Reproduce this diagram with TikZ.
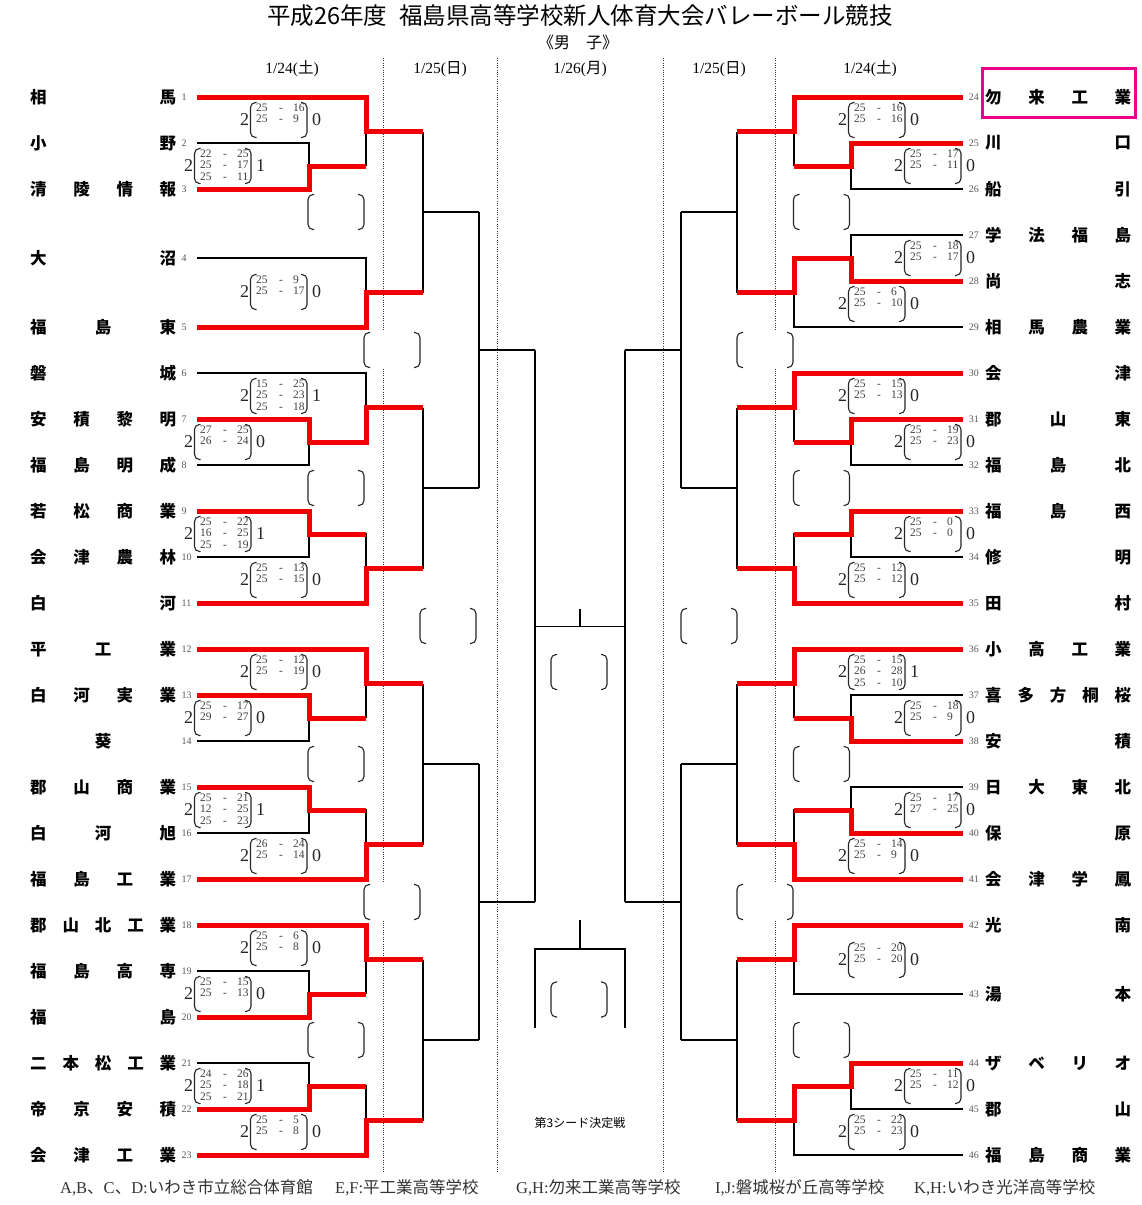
\documentclass[tikz,border=0pt]{standalone}
\usepackage{fontspec}
\setmainfont{Liberation Serif}
\newfontfamily\cjk{Noto Sans CJK JP}
\definecolor{wred}{RGB}{240,0,0}
\newcommand\sixblock[1]{%
 \draw[br] (197,#1) -- (366,#1) -- (366,#1+69);
 \draw[br] (197,#1+46) -- (309,#1+46) -- (309,#1+92) -- (197,#1+92);
 \draw[br] (309,#1+69) -- (366,#1+69);
 \draw[br] (366,#1+34.5) -- (423,#1+34.5);
 \draw[br] (197,#1+138) -- (309,#1+138) -- (309,#1+184) -- (197,#1+184);
 \draw[br] (309,#1+161) -- (366,#1+161) -- (366,#1+230) -- (197,#1+230);
 \draw[br] (366,#1+195.5) -- (423,#1+195.5);
 \draw[br] (423,#1+34.5) -- (423,#1+195.5);
 \draw[br] (423,#1+115) -- (479,#1+115);}
\newcommand\halfround{%
 \draw[br] (479,212) -- (479,488);
 \draw[br] (479,350) -- (535,350);
 \draw[br] (479,764) -- (479,1040);
 \draw[br] (479,902) -- (535,902);
 \draw[br] (535,350) -- (535,902);}
\newcommand\score[6]{%
 \node[bigd] (#1l) at (#2+4.5,#3) {#4};
 \node[scoret] (#1t) at (#2+16,#3-17) {\begin{tabular}{@{}p{23pt}@{}p{14pt}@{}l@{}}#6\end{tabular}};
 \node[bigd] (#1r) at (#2+76.5,#3) {#5};
 \draw[parl] (#2+16.5,#3-17.5) -- (#2+10.5,#3-17.5) -- (#2+10.5,#3+17.5) -- (#2+16.5,#3+17.5);
 \draw[parl] (#2+61,#3-17.5) -- (#2+67,#3-17.5) -- (#2+67,#3+17.5) -- (#2+61,#3+17.5);}
\newcommand\ebr[2]{%
 \fill[white] (#1+2,#2-18) rectangle (#1+54,#2+18);
 \draw[parl] (#1+6,#2-17.5) -- (#1,#2-17.5) -- (#1,#2+17.5) -- (#1+6,#2+17.5);
 \draw[parl] (#1+50,#2-17.5) -- (#1+56,#2-17.5) -- (#1+56,#2+17.5) -- (#1+50,#2+17.5);}
\newcommand\teamL[3]{\node[tnum,anchor=west] (n#1) at (181.5,#2) {#1};
 \node[tname] (t#1) at (30,#2) {#3};}
\newcommand\teamR[3]{\node[tnum,anchor=east] (n#1) at (979,#2) {#1};
 \node[tname] (t#1) at (985,#2) {#3};}
\begin{document}
\begin{tikzpicture}[x=1pt,y=-1pt,
  br/.style={line width=1.3pt,draw=black},
  win/.style={line width=5pt,draw=wred,line join=miter},
  parl/.style={line width=1.1pt,draw=black!85,rounded corners=5pt},
  dotl/.style={line width=1pt,draw=black!80,dash pattern=on 1pt off 1.3pt},
  tname/.style={anchor=west,inner sep=0pt,text width=146pt,font=\cjk\bfseries\fontsize{16.5}{18}\selectfont},
  tnum/.style={inner sep=0pt,font=\fontsize{10}{10}\selectfont,text=black!65},
  bigd/.style={inner sep=0pt,font=\fontsize{18}{18}\selectfont,text=black!85},
  scoret/.style={anchor=north west,inner sep=0pt,font=\fontsize{11.5}{11.5}\selectfont,text=black!75},
  datef/.style={inner sep=0pt,font=\fontsize{15.5}{15.5}\selectfont},
  foot/.style={anchor=west,inner sep=0pt,font=\fontsize{16.5}{16.5}\selectfont,text=black!80}]
\fill[white] (0,0) rectangle (1141,1205);
\useasboundingbox (0,0) rectangle (1141,1205);
% titles
\node[font=\cjk\fontsize{23.5}{25}\selectfont] (title) at (580,16) {平成26年度\hspace{0.5em}福島県高等学校新人体育大会バレーボール競技};
\node[font=\cjk\fontsize{16}{16}\selectfont] (sub) at (578,42) {《男\hspace{1em}子》};
\node[datef] (d1) at (292,69) {1/24({\cjk 土})};
\node[datef] (d2) at (440,69) {1/25({\cjk 日})};
\node[datef] (d3) at (580,69) {1/26({\cjk 月})};
\node[datef] (d4) at (719,69) {1/25({\cjk 日})};
\node[datef] (d5) at (870,69) {1/24({\cjk 土})};
% dotted day separators
\draw[dotl] (383.5,58) -- (383.5,1173);
\draw[dotl] (497,58) -- (497,1173);
\draw[dotl] (663,58) -- (663,1173);
\draw[dotl] (775.5,58) -- (775.5,1173);
% left bracket (black)
\draw[br] (197,97) -- (366,97) -- (366,166);
\draw[br] (197,143) -- (309,143) -- (309,189) -- (197,189);
\draw[br] (309,166) -- (366,166);
\draw[br] (366,131.5) -- (423,131.5);
\draw[br] (197,258) -- (366,258) -- (366,327) -- (197,327);
\draw[br] (366,292.5) -- (423,292.5);
\draw[br] (423,131.5) -- (423,292.5);
\draw[br] (423,212) -- (479,212);
\sixblock{373}
\sixblock{649}
\sixblock{925}
\halfround
% left winners
\draw[win] (197,97) -- (366,97) -- (366,131.5) -- (423,131.5);
\draw[win] (197,189) -- (309,189) -- (309,166) -- (366,166);
\draw[win] (197,327) -- (366,327) -- (366,292.5) -- (423,292.5);
\draw[win] (197,419) -- (309,419) -- (309,442) -- (366,442) -- (366,407.5) -- (423,407.5);
\draw[win] (197,511) -- (309,511) -- (309,534) -- (366,534);
\draw[win] (197,603) -- (366,603) -- (366,568.5) -- (423,568.5);
\draw[win] (197,649) -- (366,649) -- (366,683.5) -- (423,683.5);
\draw[win] (197,695) -- (309,695) -- (309,718) -- (366,718);
\draw[win] (197,787) -- (309,787) -- (309,810) -- (366,810);
\draw[win] (197,879) -- (366,879) -- (366,844.5) -- (423,844.5);
\draw[win] (197,925) -- (366,925) -- (366,959.5) -- (423,959.5);
\draw[win] (197,1017) -- (309,1017) -- (309,994) -- (366,994);
\draw[win] (197,1109) -- (309,1109) -- (309,1086) -- (366,1086);
\draw[win] (197,1155) -- (366,1155) -- (366,1120.5) -- (423,1120.5);
% right bracket (mirrored)
\begin{scope}[shift={(1160,0)},xscale=-1]
\sixblock{97}
\sixblock{373}
\sixblock{649}
\draw[br] (197,925) -- (366,925) -- (366,994) -- (197,994);
\draw[br] (366,959.5) -- (423,959.5);
\draw[br] (197,1063) -- (309,1063) -- (309,1109) -- (197,1109);
\draw[br] (309,1086) -- (366,1086) -- (366,1155) -- (197,1155);
\draw[br] (366,1120.5) -- (423,1120.5);
\draw[br] (423,959.5) -- (423,1120.5);
\draw[br] (423,1040) -- (479,1040);
\halfround
\draw[win] (197,97) -- (366,97) -- (366,131.5) -- (423,131.5);
\draw[win] (197,143) -- (309,143) -- (309,166) -- (366,166);
\draw[win] (197,281) -- (309,281) -- (309,258) -- (366,258) -- (366,292.5) -- (423,292.5);
\draw[win] (197,373) -- (366,373) -- (366,407.5) -- (423,407.5);
\draw[win] (197,419) -- (309,419) -- (309,442) -- (366,442);
\draw[win] (197,511) -- (309,511) -- (309,534) -- (366,534);
\draw[win] (197,603) -- (366,603) -- (366,568.5) -- (423,568.5);
\draw[win] (197,649) -- (366,649) -- (366,683.5) -- (423,683.5);
\draw[win] (197,741) -- (309,741) -- (309,718) -- (366,718);
\draw[win] (197,833) -- (309,833) -- (309,810) -- (366,810);
\draw[win] (197,879) -- (366,879) -- (366,844.5) -- (423,844.5);
\draw[win] (197,925) -- (366,925) -- (366,959.5) -- (423,959.5);
\draw[win] (197,1063) -- (309,1063) -- (309,1086) -- (366,1086) -- (366,1120.5) -- (423,1120.5);
\end{scope}
% final and third-place
\draw[br] (535,626.5) -- (625,626.5);
\draw[br] (580,626.5) -- (580,609);
\draw[br] (535,1028) -- (535,949) -- (625,949) -- (625,1028);
\draw[br] (580,949) -- (580,920);
\node[font=\cjk\fontsize{12}{12}\selectfont] (third) at (580,1123) {第3シード決定戦};
% empty result brackets
\ebr{308}{212} \ebr{308}{488} \ebr{308}{764} \ebr{308}{1040}
\ebr{364}{350} \ebr{364}{902} \ebr{420}{626}
\ebr{551}{672} \ebr{551}{999.5}
\ebr{793.5}{212} \ebr{793.5}{488} \ebr{793.5}{764} \ebr{793.5}{1040}
\ebr{737}{350} \ebr{737}{902} \ebr{681}{626}
% scores
\score{s1}{240}{120}{2}{0}{25&-&16\\25&-&9}
\score{s2}{184}{166}{2}{1}{22&-&25\\25&-&17\\25&-&11}
\score{s3}{240}{292}{2}{0}{25&-&9\\25&-&17}
\score{s4}{240}{396}{2}{1}{15&-&25\\25&-&23\\25&-&18}
\score{s5}{184}{442}{2}{0}{27&-&25\\26&-&24}
\score{s6}{184}{534}{2}{1}{25&-&22\\16&-&25\\25&-&19}
\score{s7}{240}{580}{2}{0}{25&-&13\\25&-&15}
\score{s8}{240}{672}{2}{0}{25&-&12\\25&-&19}
\score{s9}{184}{718}{2}{0}{25&-&17\\29&-&27}
\score{s10}{184}{810}{2}{1}{25&-&21\\12&-&25\\25&-&23}
\score{s11}{240}{856}{2}{0}{26&-&24\\25&-&14}
\score{s12}{240}{948}{2}{0}{25&-&6\\25&-&8}
\score{s13}{184}{994}{2}{0}{25&-&15\\25&-&13}
\score{s14}{184}{1086}{2}{1}{24&-&26\\25&-&18\\25&-&21}
\score{s15}{240}{1132}{2}{0}{25&-&5\\25&-&8}
\score{s16}{838}{120}{2}{0}{25&-&16\\25&-&16}
\score{s17}{894}{166}{2}{0}{25&-&17\\25&-&11}
\score{s18}{894}{258}{2}{0}{25&-&18\\25&-&17}
\score{s19}{838}{304}{2}{0}{25&-&6\\25&-&10}
\score{s20}{838}{396}{2}{0}{25&-&15\\25&-&13}
\score{s21}{894}{442}{2}{0}{25&-&19\\25&-&23}
\score{s22}{894}{534}{2}{0}{25&-&0\\25&-&0}
\score{s23}{838}{580}{2}{0}{25&-&12\\25&-&12}
\score{s24}{838}{672}{2}{1}{25&-&15\\26&-&28\\25&-&10}
\score{s25}{894}{718}{2}{0}{25&-&18\\25&-&9}
\score{s26}{894}{810}{2}{0}{25&-&17\\27&-&25}
\score{s27}{838}{856}{2}{0}{25&-&14\\25&-&9}
\score{s28}{838}{960}{2}{0}{25&-&20\\25&-&20}
\score{s29}{894}{1086}{2}{0}{25&-&11\\25&-&12}
\score{s30}{838}{1132}{2}{0}{25&-&22\\25&-&23}
% teams left
\teamL{1}{97}{相\hfill 馬}
\teamL{2}{143}{小\hfill 野}
\teamL{3}{189}{清\hfill 陵\hfill 情\hfill 報}
\teamL{4}{258}{大\hfill 沼}
\teamL{5}{327}{福\hfill 島\hfill 東}
\teamL{6}{373}{磐\hfill 城}
\teamL{7}{419}{安\hfill 積\hfill 黎\hfill 明}
\teamL{8}{465}{福\hfill 島\hfill 明\hfill 成}
\teamL{9}{511}{若\hfill 松\hfill 商\hfill 業}
\teamL{10}{557}{会\hfill 津\hfill 農\hfill 林}
\teamL{11}{603}{白\hfill 河}
\teamL{12}{649}{平\hfill 工\hfill 業}
\teamL{13}{695}{白\hfill 河\hfill 実\hfill 業}
\teamL{14}{741}{\hfill 葵\hfill\null}
\teamL{15}{787}{郡\hfill 山\hfill 商\hfill 業}
\teamL{16}{833}{白\hfill 河\hfill 旭}
\teamL{17}{879}{福\hfill 島\hfill 工\hfill 業}
\teamL{18}{925}{郡\hfill 山\hfill 北\hfill 工\hfill 業}
\teamL{19}{971}{福\hfill 島\hfill 高\hfill 専}
\teamL{20}{1017}{福\hfill 島}
\teamL{21}{1063}{二\hfill 本\hfill 松\hfill 工\hfill 業}
\teamL{22}{1109}{帝\hfill 京\hfill 安\hfill 積}
\teamL{23}{1155}{会\hfill 津\hfill 工\hfill 業}
% teams right
\teamR{24}{97}{勿\hfill 来\hfill 工\hfill 業}
\teamR{25}{143}{川\hfill 口}
\teamR{26}{189}{船\hfill 引}
\teamR{27}{235}{学\hfill 法\hfill 福\hfill 島}
\teamR{28}{281}{尚\hfill 志}
\teamR{29}{327}{相\hfill 馬\hfill 農\hfill 業}
\teamR{30}{373}{会\hfill 津}
\teamR{31}{419}{郡\hfill 山\hfill 東}
\teamR{32}{465}{福\hfill 島\hfill 北}
\teamR{33}{511}{福\hfill 島\hfill 西}
\teamR{34}{557}{修\hfill 明}
\teamR{35}{603}{田\hfill 村}
\teamR{36}{649}{小\hfill 高\hfill 工\hfill 業}
\teamR{37}{695}{喜\hfill 多\hfill 方\hfill 桐\hfill 桜}
\teamR{38}{741}{安\hfill 積}
\teamR{39}{787}{日\hfill 大\hfill 東\hfill 北}
\teamR{40}{833}{保\hfill 原}
\teamR{41}{879}{会\hfill 津\hfill 学\hfill 鳳}
\teamR{42}{925}{光\hfill 南}
\teamR{43}{994}{湯\hfill 本}
\teamR{44}{1063}{ザ\hfill ベ\hfill リ\hfill オ}
\teamR{45}{1109}{郡\hfill 山}
\teamR{46}{1155}{福\hfill 島\hfill 商\hfill 業}
% highlight
\draw[magenta,line width=3pt] (982,68) rectangle (1135,117);
% footer
\node[foot] (f1) at (60,1188) {A,B{\cjk 、}C{\cjk 、}D:{\cjk いわき市立総合体育館}};
\node[foot] (f2) at (335,1188) {E,F:{\cjk 平工業高等学校}};
\node[foot] (f3) at (516,1188) {G,H:{\cjk 勿来工業高等学校}};
\node[foot] (f4) at (715,1188) {I,J:{\cjk 磐城桜が丘高等学校}};
\node[foot] (f5) at (914,1188) {K,H:{\cjk いわき光洋高等学校}};
\end{tikzpicture}
\end{document}
